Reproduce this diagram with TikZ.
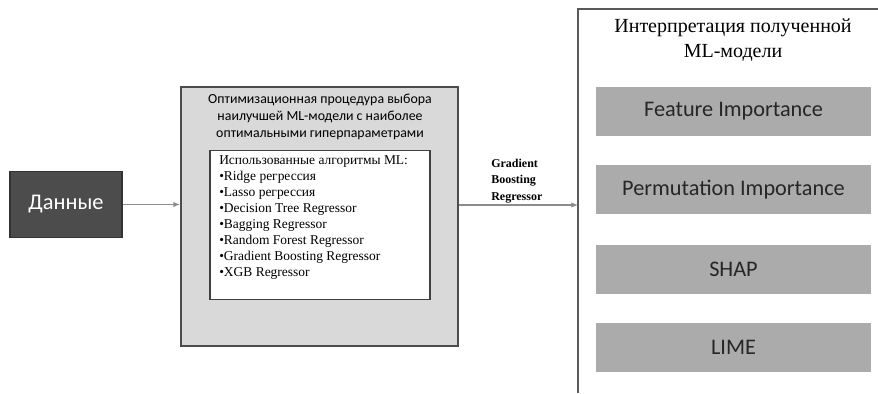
\documentclass[tikz,border=0pt]{standalone}
\usepackage{fontspec}
\setmainfont{Liberation Serif}
\newfontfamily\calibri{Carlito}
\usetikzlibrary{arrows.meta}

\begin{document}
\begin{tikzpicture}[x=0.75pt,y=-0.75pt,
    flow/.style={draw=black!45,line width=0.8pt,-{Latex[length=5pt,width=4pt]}},
    method/.style={fill=black!33,minimum width=206pt,minimum height=37pt,
        font=\calibri\fontsize{16.7}{19}\selectfont,text=black!85}]
    \useasboundingbox (0,0) rectangle (878,393);

    \node[draw=black!80,fill=black!70,line width=0.8pt,minimum width=84pt,
        minimum height=49pt,text=white,font=\calibri\fontsize{16.8}{19}\selectfont]
        (data) at (66,204.5) {Данные};

    \node[draw=black!70,fill=black!15,line width=1.2pt,minimum width=208pt,
        minimum height=194pt] (optim) at (319.5,216.5) {};
    \node[align=center,font=\calibri\fontsize{10.4}{12.7}\selectfont] (optimtitle)
        at (320,117) {Оптимизационная процедура выбора\\наилучшей ML-модели с наиболее\\оптимальными гиперпараметрами};
    \node[draw=black!75,fill=white,line width=0.8pt,minimum width=165pt,
        minimum height=112pt] (algs) at (320,225) {};
    \node[anchor=north west,inner sep=0pt,align=left,
        font=\fontsize{10.1}{12}\selectfont] (alglist) at (219,155)
        {Использованные алгоритмы ML:\\
        \textbullet Ridge регрессия\\
        \textbullet Lasso регрессия\\
        \textbullet Decision Tree Regressor\\
        \textbullet Bagging Regressor\\
        \textbullet Random Forest Regressor\\
        \textbullet Gradient Boosting Regressor\\
        \textbullet XGB Regressor};

    % right panel, cut by the page edges
    \coordinate (panel) at (578,205);
    \draw[draw=black!65,line width=1pt] (578,393) -- (578,9) -- (878,9);
    \node[align=center,font=\fontsize{15}{18.8}\selectfont] (interp) at (733,40)
        {Интерпретация полученной\\ML-модели};
    \node[method] (fi) at (733.5,111.5) {Feature Importance};
    \node[method] (pi) at (733.5,189.5) {Permutation Importance};
    \node[method] (shap) at (733.5,269.5) {SHAP};
    \node[method] (lime) at (733.5,347.5) {LIME};

    \draw[flow] (data.east) -- (data.east -| optim.west);
    \draw[flow] (panel -| optim.east) -- (panel);
    \node[anchor=west,align=left,inner sep=0pt,font=\bfseries\fontsize{9}{12.4}\selectfont] (gbr)
        at (491,181) {Gradient\\Boosting\\Regressor};
\end{tikzpicture}
\end{document}
